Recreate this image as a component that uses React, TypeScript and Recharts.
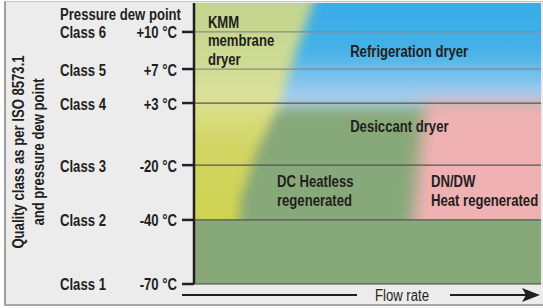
import { Area, ComposedChart, Label, ReferenceDot, ReferenceLine, XAxis, YAxis } from "recharts";

const classNames = ["Class 6", "Class 5", "Class 4", "Class 3", "Class 2", "Class 1"];
const dewPoints = ["+10 °C", "+7 °C", "+3 °C", "-20 °C", "-40 °C", "-70 °C"];
// where each class sits on the vertical quality scale (0 = class 1, 100 = top)
const classLevels = [89.7, 76.5, 64.4, 42.3, 22.8, 0];

// dryer regions on the flow rate / quality plane
const membraneFlow = [-10, 12.5, 13.3, 18.2, 21, 24.8, 27.7, 34.3, 38];
const membraneLow = [5, 5, 29.9, 47.7, 54.8, 64.4, 76.1, 100, 115];
const refrigerationFlow = [15, 115];
const refrigerationLow = [63, 63];
const heatRegenFlow = [61, 63.1, 66.5, 115];
const heatRegenHigh = [5, 22.8, 65, 65];

const W = 543;
const H = 308;
const FONT = "'Liberation Sans', Arial, sans-serif";
const INK = "#231f20";
const lineColors = ["#8a8a8a", "#8a8a8a", "#555555", "#555555", "#555555", "#444444"];

const fullBand = [
  { flow: -10, band: [-10, 115] },
  { flow: 115, band: [-10, 115] },
];
const lowBand = [
  { flow: -10, band: [-10, classLevels[4]] },
  { flow: 115, band: [-10, classLevels[4]] },
];
const membraneData = membraneFlow.map((flow, i) => ({ flow, band: [membraneLow[i], 115] }));
const refrigerationData = refrigerationFlow.map((flow, i) => ({ flow, band: [refrigerationLow[i], 115] }));
const heatRegenData = heatRegenFlow.map((flow, i) => ({ flow, band: [5, heatRegenHigh[i]] }));

// label anchors (flow, level)
const labelSpots = [
  { lines: ["KMM", "membrane", "dryer"], flow: 4, level: 93.2 },
  { lines: ["Refrigeration dryer"], flow: 45, level: 82.9 },
  { lines: ["Desiccant dryer"], flow: 45, level: 56.2 },
  { lines: ["DC Heatless", "regenerated"], flow: 23.9, level: 36.3 },
  { lines: ["DN/DW", "Heat regenerated"], flow: 68.3, level: 36.3 },
];

// narrow bold text (condensed grotesque look)
const T = ({ x, y, anchor = "start", bold = true, rotate, children }: any) => (
  <text
    transform={`translate(${x} ${y})${rotate ? ` rotate(${rotate})` : ""} scale(0.82 1)`}
    x={0}
    y={0}
    textAnchor={anchor}
    dominantBaseline="central"
    fontFamily={FONT}
    fontWeight={bold ? "bold" : "normal"}
    fontSize={16}
    fill={INK}
  >
    {children}
  </text>
);

const ClassTick = (props: any) => {
  const { x, y, payload } = props;
  const idx = classLevels.indexOf(payload.value);
  return (
    <g>
      <T x={60} y={y + 1}>{classNames[idx]}</T>
      <T x={x - 3} y={y + 1} anchor="end">
        {dewPoints[idx]}
      </T>
    </g>
  );
};

const yTitle = () => (
  <g>
    <T x={60} y={15}>Pressure dew point</T>
    <T x={19} y={152} anchor="middle" rotate={-90}>
      Quality class as per ISO 8573.1
    </T>
    <T x={39} y={152} anchor="middle" rotate={-90}>
      and pressure dew point
    </T>
  </g>
);

const flowRate = (props: any) => {
  const { x, y } = props.viewBox;
  const ly = y + 11;
  return (
    <g>
      <line x1={x - 12} x2={357} y1={ly} y2={ly} stroke={INK} strokeWidth={2} />
      <T x={402} y={ly + 1} anchor="middle" bold={false}>
        Flow rate
      </T>
      <line x1={450} x2={526} y1={ly} y2={ly} stroke={INK} strokeWidth={2} />
      <polygon points={`${522},${ly - 7} ${540},${ly} ${522},${ly + 7} ${526},${ly}`} fill={INK} />
    </g>
  );
};

const regionText = (lines: string[]) => (p: any) => (
  <T x={p.cx} y={p.cy}>
    {lines.map((l, i) => (
      <tspan key={l} x={0} dy={i === 0 ? 0 : 18.5}>
        {l}
      </tspan>
    ))}
  </T>
);

export default function App() {
  return (
    <div style={{ position: "absolute", left: 0, top: 0, width: W, height: H, background: "#fff" }}>
      <style>{`
        .softBlue .recharts-area-area { filter: url(#blurBlue); }
        .softPink .recharts-area-area { filter: url(#blurPink); }
        .softYellow .recharts-area-area { filter: url(#blurYellow); }
      `}</style>
      <div
        style={{
          position: "absolute",
          left: 4,
          top: 1,
          width: W - 4,
          height: 305,
          background: "#ececec",
          borderLeft: "2px solid #a0a0a0",
          borderTop: "1px solid #c4c4c4",
          borderBottom: "2px solid #a8a8a8",
          boxSizing: "border-box",
        }}
      />
      <div style={{ position: "absolute", left: 0, top: 0 }}>
        <ComposedChart width={W} height={H} margin={{ top: 3, right: 2, bottom: 0, left: 0 }}>
          <defs>
            <filter id="blurBlue" x="-20%" y="-20%" width="140%" height="140%">
              <feGaussianBlur stdDeviation="7" />
            </filter>
            <filter id="blurPink" x="-20%" y="-20%" width="140%" height="140%">
              <feGaussianBlur stdDeviation="8" />
            </filter>
            <filter id="blurYellow" x="-20%" y="-20%" width="140%" height="140%">
              <feGaussianBlur stdDeviation="5.5" />
            </filter>
            <linearGradient id="blueFill" gradientUnits="userSpaceOnUse" x1="0" y1="3" x2="0" y2="112">
              <stop offset="0" stopColor="#37ace6" />
              <stop offset="0.45" stopColor="#44b1e7" />
              <stop offset="0.65" stopColor="#72c0eb" />
              <stop offset="0.85" stopColor="#a4ccef" />
              <stop offset="1" stopColor="#bcd3ea" />
            </linearGradient>
            <linearGradient id="yellowFill" gradientUnits="userSpaceOnUse" x1="0" y1="3" x2="0" y2="220">
              <stop offset="0" stopColor="#c3d58e" />
              <stop offset="0.3" stopColor="#cfdb93" />
              <stop offset="0.43" stopColor="#dce29c" />
              <stop offset="0.55" stopColor="#d7da76" />
              <stop offset="0.7" stopColor="#d1d45e" />
              <stop offset="1" stopColor="#cfd352" />
            </linearGradient>
          </defs>
          <XAxis
            type="number"
            dataKey="flow"
            domain={[0, 100]}
            allowDataOverflow
            height={24}
            tick={false}
            tickLine={false}
            axisLine={false}
          >
            <Label content={flowRate} />
          </XAxis>
          <YAxis
            type="number"
            domain={[0, 100]}
            allowDataOverflow
            ticks={classLevels}
            interval={0}
            width={194}
            tickSize={12}
            tick={<ClassTick />}
            axisLine={{ stroke: INK, strokeWidth: 2.5 }}
            tickLine={{ stroke: INK, strokeWidth: 2.5 }}
          >
            <Label content={yTitle} />
          </YAxis>
          <Area data={fullBand} dataKey="band" type="linear" fill="#87a979" fillOpacity={1} stroke="none" isAnimationActive={false} />
          <Area
            className="softBlue"
            data={refrigerationData}
            dataKey="band"
            type="linear"
            fill="url(#blueFill)"
            fillOpacity={1}
            stroke="none"
            isAnimationActive={false}
          />
          <Area
            className="softPink"
            data={heatRegenData}
            dataKey="band"
            type="linear"
            fill="#f0b1b2"
            fillOpacity={1}
            stroke="none"
            isAnimationActive={false}
          />
          <Area
            className="softYellow"
            data={membraneData}
            dataKey="band"
            type="linear"
            fill="url(#yellowFill)"
            fillOpacity={1}
            stroke="none"
            isAnimationActive={false}
          />
          <Area data={lowBand} dataKey="band" type="linear" fill="#87a979" fillOpacity={1} stroke="none" isAnimationActive={false} />
          {classLevels.map((lvl, i) => (
            <ReferenceLine key={lvl} y={lvl} stroke={lineColors[i]} strokeWidth={1.2} />
          ))}
          {labelSpots.map((s) => (
            <ReferenceDot key={s.lines[0]} x={s.flow} y={s.level} r={0} shape={regionText(s.lines)} />
          ))}
        </ComposedChart>
      </div>
    </div>
  );
}
